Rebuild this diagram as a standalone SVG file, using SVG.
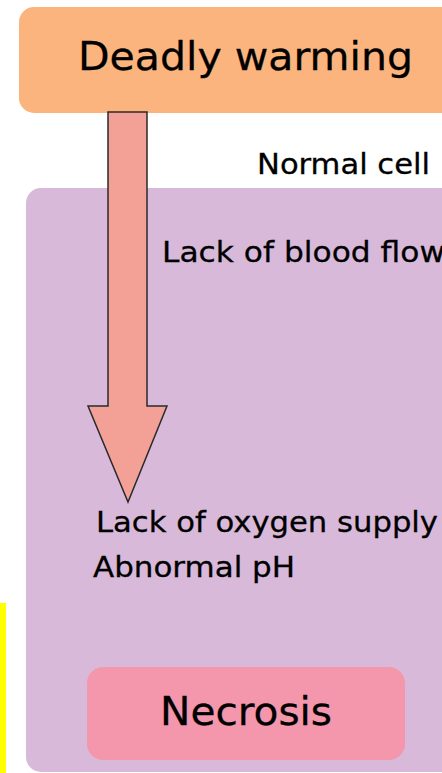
<svg xmlns="http://www.w3.org/2000/svg" width="442" height="773" viewBox="0 0 442 773">
  <style>
    text { font-family: "DejaVu Sans", Verdana, sans-serif; fill: #000; stroke: #000; stroke-width: 0.3px; }
    .big { font-size: 39px; }
    .lbl { font-size: 28.5px; }
  </style>
  <rect x="0" y="0" width="442" height="773" fill="#ffffff"/>
  <g id="yellow-bar">
    <rect x="0" y="603" width="6" height="175" fill="#FFFF00"/>
  </g>
  <g id="deadly-warming">
    <rect x="19" y="7" width="450" height="106" rx="15" fill="#FBB47D"/>
    <text class="big" x="78" y="70" textLength="335" lengthAdjust="spacingAndGlyphs">Deadly warming</text>
  </g>
  <g id="normal-cell">
    <rect x="26" y="188" width="440" height="584" rx="15" fill="#D8B9D9"/>
    <text class="lbl" x="257" y="174" textLength="173" lengthAdjust="spacingAndGlyphs">Normal cell</text>
  </g>
  <g id="lack-blood-flow">
    <text class="lbl" x="162" y="262" textLength="283" lengthAdjust="spacingAndGlyphs">Lack of blood flow</text>
  </g>
  <g id="lack-oxygen">
    <text class="lbl" x="96" y="532" textLength="342" lengthAdjust="spacingAndGlyphs">Lack of oxygen supply</text>
    <text class="lbl" x="93" y="577" textLength="202" lengthAdjust="spacingAndGlyphs">Abnormal pH</text>
  </g>
  <g id="necrosis">
    <rect x="87" y="667" width="318" height="93" rx="16" fill="#F497AD"/>
    <text class="big" x="160" y="725" textLength="172" lengthAdjust="spacingAndGlyphs">Necrosis</text>
  </g>
  <g id="connectors">
    <path d="M108,112 L147,112 L147,406 L167,406 L128,502 L88,406 L108,406 Z" fill="#F3A097" stroke="#2a2a2a" stroke-width="1.5" stroke-linejoin="miter"/>
  </g>
</svg>
